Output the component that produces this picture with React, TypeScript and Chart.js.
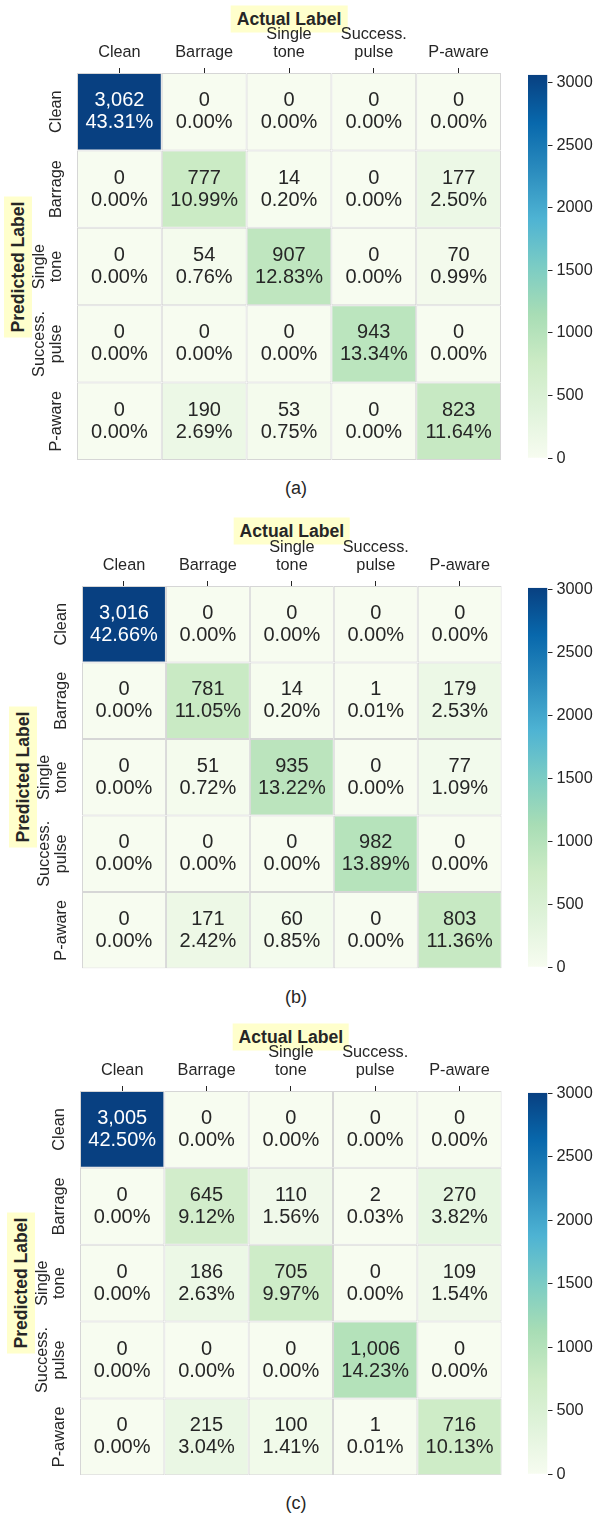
import React, { useEffect, useRef } from "react";
import { Chart, registerables } from "chart.js";

Chart.register(...registerables);

// Class names (multi-line where the label wraps)
const actualLabels: string[][] = [["Clean"], ["Barrage"], ["Single", "tone"], ["Success.", "pulse"], ["P-aware"]];
const predictedLabels: string[][] = [["Clean"], ["Barrage"], ["Single", "tone"], ["Success.", "pulse"], ["P-aware"]];

// Confusion matrices: rows = predicted, columns = actual
const countsA: number[][] = [
  [3062, 0, 0, 0, 0],
  [0, 777, 14, 0, 177],
  [0, 54, 907, 0, 70],
  [0, 0, 0, 943, 0],
  [0, 190, 53, 0, 823],
];
const countsB: number[][] = [
  [3016, 0, 0, 0, 0],
  [0, 781, 14, 1, 179],
  [0, 51, 935, 0, 77],
  [0, 0, 0, 982, 0],
  [0, 171, 60, 0, 803],
];
const countsC: number[][] = [
  [3005, 0, 0, 0, 0],
  [0, 645, 110, 2, 270],
  [0, 186, 705, 0, 109],
  [0, 0, 0, 1006, 0],
  [0, 215, 100, 1, 716],
];

const colorbarTicks = [0, 500, 1000, 1500, 2000, 2500, 3000];
const captions = ["(a)", "(b)", "(c)"];
const xTitle = "Actual Label";
const yTitle = "Predicted Label";

// GnBu colour map stops
const gnbu = ["#f7fcf0", "#e0f3db", "#ccebc5", "#a8ddb5", "#7bccc4", "#4eb3d3", "#2b8cbe", "#0868ac", "#084081"];

const FONT = "'Liberation Sans', Arial, sans-serif";
const INK = "#262626";
const GRID_LINE = "#d6d6d6";

function hexToRgb(h: string): number[] {
  const n = parseInt(h.slice(1), 16);
  return [(n >> 16) & 255, (n >> 8) & 255, n & 255];
}

function cmapRgb(t: number): number[] {
  const tt = Math.min(1, Math.max(0, t)) * (gnbu.length - 1);
  const i = Math.min(gnbu.length - 2, Math.floor(tt));
  const f = tt - i;
  const a = hexToRgb(gnbu[i]);
  const b = hexToRgb(gnbu[i + 1]);
  return [0, 1, 2].map((k) => a[k] + (b[k] - a[k]) * f);
}

function cmap(t: number): string {
  const [r, g, b] = cmapRgb(t);
  return `rgb(${Math.round(r)},${Math.round(g)},${Math.round(b)})`;
}

function luminance(rgb: number[]): number {
  const lin = rgb.map((c) => {
    const v = c / 255;
    return v <= 0.03928 ? v / 12.92 : Math.pow((v + 0.055) / 1.055, 2.4);
  });
  return 0.2126 * lin[0] + 0.7152 * lin[1] + 0.0722 * lin[2];
}

function withCommas(v: number): string {
  return String(v).replace(/\B(?=(\d{3})+(?!\d))/g, ",");
}

type Layout = { left: number; top: number; right: number; bottom: number; yLabelX: number; titleY: number; captionY: number };

const layouts: Layout[] = [
  { left: 77, top: 73, right: 501, bottom: 460, yLabelX: 18, titleY: 18.5, captionY: 488 },
  { left: 82, top: 585.7, right: 501.7, bottom: 968.3, yLabelX: 23, titleY: 531, captionY: 997 },
  { left: 80, top: 1090.7, right: 501.7, bottom: 1475, yLabelX: 21, titleY: 1036.8, captionY: 1503 },
];

const HEAD = 73;
const PAD = 6;
const ROW_LABEL_GAP = 16;
const ROW_LABEL_LH = 17.5;

function Heatmap({ counts, lay }: { counts: number[][]; lay: Layout }) {
  const ref = useRef<HTMLCanvasElement>(null);
  const width = Math.ceil(lay.right + PAD);
  const gridH = lay.bottom - lay.top;
  const height = Math.ceil(gridH + HEAD + PAD);

  useEffect(() => {
    const flat = counts.flat();
    const total = flat.reduce((a, b) => a + b, 0);
    const vmax = Math.max(...flat);

    const cellText = {
      id: "cellText",
      afterDatasetsDraw(chart: any) {
        const ctx = chart.ctx as CanvasRenderingContext2D;
        ctx.save();
        ctx.textAlign = "center";
        ctx.textBaseline = "middle";
        ctx.font = `20px ${FONT}`;
        counts.forEach((row, r) => {
          const meta = chart.getDatasetMeta(r);
          row.forEach((v, c) => {
            const bar = meta.data[c];
            const { x, y, base } = bar.getProps(["x", "y", "base"], true);
            const cy = (y + base) / 2;
            const lum = luminance(cmapRgb(v / vmax));
            ctx.fillStyle = lum > 0.408 ? INK : "#ffffff";
            ctx.fillText(withCommas(v), x, cy - 11);
            ctx.fillText(((v / total) * 100).toFixed(2) + "%", x, cy + 11);
          });
        });
        ctx.restore();

        // rotated row labels on the left
        const yScale = chart.scales.y;
        const area = chart.chartArea;
        ctx.save();
        ctx.fillStyle = INK;
        ctx.font = `16.3px ${FONT}`;
        ctx.textAlign = "center";
        ctx.textBaseline = "alphabetic";
        predictedLabels.forEach((lines, r) => {
          const cy = yScale.getPixelForValue(r + 0.5);
          ctx.save();
          ctx.translate(area.left - ROW_LABEL_GAP, cy);
          ctx.rotate(-Math.PI / 2);
          lines.forEach((ln, i) => ctx.fillText(ln, 0, -(lines.length - 1 - i) * ROW_LABEL_LH));
          ctx.restore();
        });
        ctx.restore();
      },
    };

    const chart = new Chart(ref.current as HTMLCanvasElement, {
      type: "bar",
      data: {
        labels: actualLabels as any,
        datasets: counts.map((row, r) => ({
          data: row.map(() => [r, r + 1]) as any,
          backgroundColor: row.map((v) => cmap(v / vmax)),
          borderColor: GRID_LINE,
          borderWidth: 1,
          borderSkipped: false,
          grouped: false,
          barPercentage: 1,
          categoryPercentage: 1,
          inflateAmount: 0,
        })) as any,
      },
      options: {
        animation: false,
        responsive: false,
        maintainAspectRatio: false,
        events: [],
        layout: { padding: { left: 0, top: 0, right: width - lay.right, bottom: height - HEAD - gridH } },
        plugins: { legend: { display: false }, tooltip: { enabled: false }, title: { display: false } },
        scales: {
          x: {
            type: "category",
            position: "top",
            offset: true,
            grid: { offset: false, drawOnChartArea: false, drawTicks: true, tickLength: 5, tickColor: INK, tickWidth: 1 },
            border: { display: false },
            ticks: {
              color: INK,
              font: { family: FONT, size: 16.3, lineHeight: 1.12 },
              padding: 6,
              minRotation: 0,
              maxRotation: 0,
              autoSkip: false,
            },
            afterFit: (s: any) => {
              s.height = HEAD;
            },
          },
          y: {
            type: "linear",
            position: "left",
            min: 0,
            max: predictedLabels.length,
            reverse: true,
            grid: { display: false },
            border: { display: false },
            ticks: { display: false },
            afterFit: (s: any) => {
              s.width = lay.left;
            },
          },
        },
      } as any,
      plugins: [cellText],
    });
    return () => chart.destroy();
  }, []);

  return (
    <canvas
      ref={ref}
      width={width}
      height={height}
      style={{ position: "absolute", left: 0, top: lay.top - HEAD, width, height }}
    />
  );
}

const CB_LEFT = 518;
const CB_W = 81;
const CB_PADL = 10;
const CB_BAR = 19.5;
const CB_VPAD = 12;

function Colorbar({ counts, lay }: { counts: number[][]; lay: Layout }) {
  const ref = useRef<HTMLCanvasElement>(null);
  const gridH = lay.bottom - lay.top;
  const height = Math.ceil(gridH + 2 * CB_VPAD);

  useEffect(() => {
    const vmax = Math.max(...counts.flat());
    const chart = new Chart(ref.current as HTMLCanvasElement, {
      type: "bar",
      data: {
        labels: [""],
        datasets: [
          {
            data: [[0, vmax]] as any,
            backgroundColor: (c: any) => {
              const ch = c.chart;
              const area = ch.chartArea;
              if (!area || !isFinite(area.top) || !isFinite(area.bottom) || area.bottom <= area.top) return gnbu[0];
              // gradient runs from 0 (bottom of the bar area) to vmax (top)
              const g = ch.ctx.createLinearGradient(0, area.bottom, 0, area.top);
              gnbu.forEach((col, i) => g.addColorStop(i / (gnbu.length - 1), col));
              return g;
            },
            borderWidth: 0,
            barPercentage: 1,
            categoryPercentage: 1,
            inflateAmount: 0,
          },
        ],
      },
      options: {
        animation: false,
        responsive: false,
        maintainAspectRatio: false,
        events: [],
        layout: { padding: { left: CB_PADL, top: CB_VPAD, right: 0, bottom: height - CB_VPAD - gridH } },
        plugins: { legend: { display: false }, tooltip: { enabled: false } },
        scales: {
          x: { display: false, offset: true },
          y: {
            type: "linear",
            position: "right",
            min: 0,
            max: vmax,
            grid: { drawOnChartArea: false, drawTicks: true, tickLength: 5, tickColor: INK, tickWidth: 1 },
            border: { display: false },
            ticks: {
              color: INK,
              font: { family: FONT, size: 16.3 },
              padding: 4,
              callback: (v: any) => String(v),
            },
            afterBuildTicks: (s: any) => {
              s.ticks = colorbarTicks.map((v) => ({ value: v }));
            },
            afterFit: (s: any) => {
              s.width = CB_W - CB_PADL - CB_BAR;
            },
          },
        },
      } as any,
    });
    return () => chart.destroy();
  }, []);

  return (
    <canvas
      ref={ref}
      width={CB_W}
      height={height}
      style={{ position: "absolute", left: CB_LEFT, top: lay.top - CB_VPAD, width: CB_W, height }}
    />
  );
}

function Panel({ counts, lay, caption }: { counts: number[][]; lay: Layout; caption: string }) {
  const cx = (lay.left + lay.right) / 2;
  const cy = (lay.top + lay.bottom) / 2;
  const tag: React.CSSProperties = {
    position: "absolute",
    background: "#ffffcc",
    color: INK,
    fontFamily: FONT,
    fontWeight: "bold",
    fontSize: 17.6,
    lineHeight: "21px",
    whiteSpace: "nowrap",
  };
  // the highlighted axis titles sit underneath the (transparent) chart canvases
  return (
    <>
      <div style={{ ...tag, left: cx, top: lay.titleY, padding: "3px 6px", transform: "translate(-50%, -50%)" }}>{xTitle}</div>
      <div
        style={{
          ...tag,
          left: lay.yLabelX,
          top: cy,
          padding: "3.5px 5px",
          transform: "translate(-50%, -50%) rotate(-90deg)",
        }}
      >
        {yTitle}
      </div>
      <div
        style={{
          position: "absolute",
          left: 296,
          top: lay.captionY,
          transform: "translate(-50%, -50%)",
          fontFamily: FONT,
          fontSize: 18,
          lineHeight: "22px",
          color: INK,
          whiteSpace: "nowrap",
        }}
      >
        {caption}
      </div>
      <Heatmap counts={counts} lay={lay} />
      <Colorbar counts={counts} lay={lay} />
    </>
  );
}

export default function App() {
  const all = [countsA, countsB, countsC];
  return (
    <div style={{ position: "absolute", left: 0, top: 0, width: 599, height: 1515, background: "#ffffff", overflow: "hidden" }}>
      {all.map((m, i) => (
        <Panel key={i} counts={m} lay={layouts[i]} caption={captions[i]} />
      ))}
    </div>
  );
}
